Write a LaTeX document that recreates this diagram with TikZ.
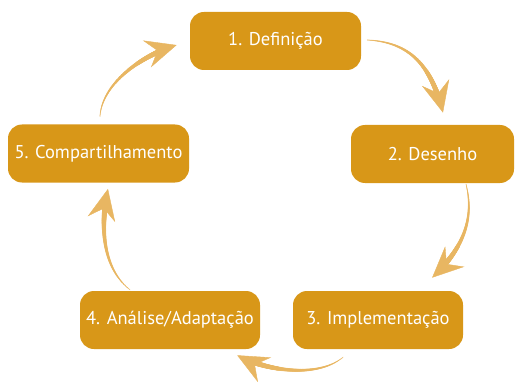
\documentclass[tikz,border=0pt]{standalone}
\usepackage{fontspec}
\setmainfont{PT Sans}
\usetikzlibrary{calc,arrows.meta,decorations.markings}

\definecolor{boxgold}{RGB}{216,151,24}
\definecolor{arrowgold}{RGB}{232,182,98}

\tikzset{
  stage/.style={rounded corners=14pt, fill=boxgold, text=white, inner sep=0pt,
    minimum height=58pt, font=\fontsize{18.5}{20}\selectfont},
  % tapered curved arrow: growing dots along the path plus a swept head
  flow/.style={arrowgold, decoration={markings,
      mark=between positions 0 and -14pt step 0.4pt with {%
        \pgfmathsetmacro\taperr{0.35+2.7*\pgfkeysvalueof{/pgf/decoration/mark info/distance from start}/\pgfdecoratedpathlength}%
        \fill[arrowgold] (0,0) circle[radius=\taperr pt];},
      mark=at position 1 with {\arrow[arrowgold]{Stealth[length=31pt,width=28pt,inset=11pt]}}},
    postaction={decorate}}
}

\begin{document}
\begin{tikzpicture}[x=1pt,y=-1pt]
\useasboundingbox (0,0) rectangle (516,382);

\node[stage, minimum width=171pt] (n1) at (275.5,41) {1. Definição};
\node[stage, minimum width=163pt] (n2) at (432.5,154) {2. Desenho};
\node[stage, minimum width=170pt] (n3) at (378,320) {3. Implementação};
\node[stage, minimum width=180pt] (n4) at (170,320) {4. Análise/Adaptação};
\node[stage, minimum width=181pt] (n5) at (98.5,153.5) {5. Compartilhamento};

\path[flow] ($(n1.east)+(6,-1)$) .. controls +(38,2) and +(-13,-53) .. ($(n2.north)+(10.5,-12)$);
\path[flow] ($(n2.south)+(33.5,1)$) .. controls +(9,36) and +(30,-28) .. ($(n3.north)+(54,-13)$);
\path[flow] ($(n3.south)+(-35,8)$) .. controls +(-25,21) and +(30,16) .. ($(n4.south)+(67,6)$);
\path[flow] ($(n4.north)+(-40,-1)$) .. controls +(-28,-22) and +(-8,37) .. ($(n5.south)+(9.5,6)$);
\path[flow] ($(n5.north)+(1.5,-8)$) .. controls +(2,-32) and +(-37,11) .. ($(n1.west)+(-13,4)$);
\end{tikzpicture}
\end{document}
